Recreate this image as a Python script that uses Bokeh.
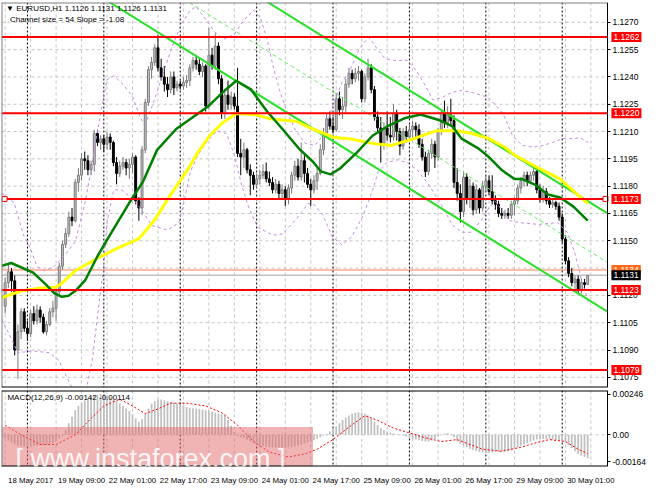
from bokeh.plotting import figure
from bokeh.layouts import column
from bokeh.models import FixedTicker, NumeralTickFormatter, Span, Label, Range1d, ColumnDataSource
from bokeh.embed import file_html
from bokeh.resources import INLINE

FONT = "Liberation Sans"
BASE = 1.0
PIP = 0.0001

# ---- EURUSD H1 candles (value v means 1.0 + v * 0.0001), bar 0 = 18 May 17:00 ----
opens = [1114,1127,1133,1128,1090,1100,1111,1102,1099,1110,1106,1112,1108,1100,1104,1111,1113,1122,1136,1148,
         1154,1163,1161,1182,1186,1195,1194,1189,1192,1209,1204,1206,1203,1207,1204,1193,1187,1191,1193,1190,
         1192,1196,1172,1168,1200,1226,1244,1248,1256,1245,1240,1236,1233,1240,1234,1236,1235,1237,1238,1245,
         1249,1247,1243,1246,1224,1252,1246,1257,1239,1220,1230,1225,1229,1224,1198,1196,1200,1189,1186,1181,
         1184,1186,1188,1184,1182,1178,1181,1176,1178,1173,1179,1186,1191,1185,1194,1187,1181,1178,1183,1187,
         1200,1209,1217,1213,1211,1228,1222,1224,1236,1242,1239,1242,1243,1228,1240,1245,1233,1218,1212,1203,
         1212,1208,1207,1220,1210,1202,1210,1207,1211,1213,1211,1203,1196,1188,1198,1203,1196,1210,1220,1215,
         1219,1216,1182,1176,1166,1185,1173,1180,1167,1178,1168,1180,1183,1177,1172,1170,1165,1164,1165,1164,
         1170,1172,1179,1183,1186,1183,1186,1188,1178,1173,1177,1172,1170,1171,1169,1163,1151,1139,1132,1127,
         1129,1123,1127,1126]
highs = [1130,1137,1135,1131,1104,1113,1113,1106,1112,1114,1115,1114,1110,1106,1113,1117,1124,1138,1150,1157,
         1166,1168,1184,1190,1198,1199,1197,1194,1211,1211,1208,1208,1210,1209,1205,1196,1194,1196,1195,1195,
         1198,1197,1174,1202,1228,1246,1251,1258,1263,1250,1246,1240,1243,1243,1238,1238,1240,1241,1247,1251,
         1251,1250,1248,1247,1267,1256,1264,1259,1241,1233,1238,1232,1231,1245,1206,1204,1201,1192,1188,1187,
         1189,1192,1193,1188,1185,1184,1183,1181,1180,1181,1188,1194,1195,1204,1197,1190,1184,1186,1190,1203,
         1212,1220,1221,1218,1231,1232,1229,1239,1245,1244,1245,1246,1244,1242,1250,1247,1235,1221,1218,1215,
         1221,1218,1225,1222,1212,1212,1213,1214,1216,1215,1214,1206,1199,1200,1206,1205,1212,1222,1227,1224,
         1228,1219,1190,1181,1188,1187,1184,1182,1181,1179,1183,1186,1186,1186,1175,1172,1168,1167,1168,1172,
         1174,1181,1185,1188,1188,1188,1190,1190,1181,1180,1179,1174,1173,1172,1171,1165,1153,1141,1135,1131,
         1131,1129,1129,1131]
lows = [1110,1124,1122,1087,1074,1096,1100,1095,1097,1104,1104,1105,1099,1098,1103,1108,1106,1120,1134,1146,
        1152,1158,1160,1177,1183,1189,1186,1186,1188,1202,1200,1199,1200,1200,1191,1181,1185,1189,1186,1184,
        1187,1170,1161,1164,1198,1224,1239,1246,1243,1238,1232,1229,1231,1230,1232,1233,1233,1234,1235,1243,
        1244,1241,1240,1221,1222,1244,1244,1236,1217,1217,1222,1222,1222,1196,1186,1190,1187,1175,1178,1179,
        1181,1184,1182,1180,1176,1176,1173,1173,1169,1170,1176,1183,1183,1183,1182,1179,1169,1176,1178,1186,
        1197,1207,1211,1209,1210,1219,1217,1220,1234,1236,1237,1238,1226,1226,1238,1231,1216,1209,1193,1200,
        1205,1204,1205,1205,1197,1200,1204,1205,1206,1206,1201,1194,1185,1186,1195,1190,1194,1208,1212,1212,
        1213,1179,1172,1160,1163,1170,1168,1164,1165,1165,1166,1177,1175,1170,1167,1163,1162,1162,1162,1162,
        1164,1170,1176,1180,1180,1181,1183,1176,1171,1171,1170,1168,1168,1167,1161,1149,1137,1130,1125,1123,
        1121,1121,1123,1126]
closes = [1127,1133,1128,1090,1100,1111,1102,1099,1110,1106,1112,1108,1100,1104,1111,1113,1122,1136,1148,1154,
          1163,1161,1182,1186,1195,1194,1189,1192,1209,1204,1206,1203,1207,1204,1193,1187,1191,1193,1190,1192,
          1196,1172,1168,1200,1226,1244,1248,1256,1245,1240,1236,1233,1240,1234,1236,1235,1237,1238,1245,1249,
          1247,1243,1246,1224,1252,1246,1257,1239,1220,1230,1225,1229,1224,1198,1196,1200,1189,1186,1181,1184,
          1186,1188,1184,1182,1178,1181,1176,1178,1173,1179,1186,1191,1185,1194,1187,1181,1178,1183,1187,1200,
          1209,1217,1213,1211,1228,1222,1224,1236,1242,1239,1242,1243,1228,1240,1245,1233,1218,1212,1203,1212,
          1208,1207,1220,1210,1202,1210,1207,1211,1213,1211,1203,1196,1188,1198,1203,1196,1210,1220,1215,1219,
          1216,1182,1176,1166,1185,1173,1180,1167,1178,1168,1180,1183,1177,1172,1170,1165,1164,1165,1164,1170,
          1172,1179,1183,1186,1183,1186,1188,1178,1173,1177,1172,1170,1171,1169,1163,1151,1139,1132,1127,1129,
          1123,1127,1126,1131]

# moving averages (bar, value)
green_ma_bars = [-1.1,1.9,8.8,13.0,15.4,17.8,19.9,22.0,25.1,29.0,32.9,38.9,43.4,47.7,53.7,58.5,63.6,69.0,72.6,
                 77.2,82.3,87.1,92.2,96.7,99.2,102.2,105.2,110.3,115.4,120.2,125.4,130.5,136.5,140.4,143.4,148.6,
                 151.9,156.1,160.0,162.4,166.6,170.5,174.4,178.7,183.0]
green_ma = [1136.2,1137.8,1132.5,1125.6,1121.3,1119.2,1119.8,1122.4,1128.2,1141.5,1153.1,1170.6,1182.8,1199.8,
            1211.4,1217.3,1223.6,1232.6,1237.9,1233.2,1221.0,1211.4,1200.8,1193.4,1188.1,1186.5,1189.7,1198.2,
            1207.7,1213.0,1217.3,1219.4,1216.2,1213.0,1206.1,1200.8,1196.1,1188.7,1183.9,1183.9,1180.7,1175.4,
            1173.8,1168.5,1161.1]
yellow_ma_bars = [-1.1,4.9,10.9,16.0,17.8,22.0,29.0,35.0,41.9,47.0,52.2,57.0,60.6,64.2,68.1,72.6,78.1,84.1,91.3,
                  96.7,103.4,108.2,115.4,121.4,128.4,135.3,141.9,147.0,151.9,157.0,160.0,166.6,174.4,180.5,183.0]
yellow_ma = [1118.7,1122.4,1124.0,1124.5,1126.7,1133.5,1140.4,1145.7,1151.0,1161.6,1175.9,1188.1,1198.7,1207.7,
             1214.6,1219.9,1219.4,1216.7,1215.7,1211.4,1206.7,1206.1,1203.5,1202.4,1206.1,1210.4,1210.4,1208.8,
             1206.1,1201.4,1197.1,1190.8,1183.9,1174.3,1170.5]

# envelopes (bar, value)
upper_band_bars = [-1.1,2.8,5.8,7.9,10,12.4,15.4,18.4,22,25.1,26.9,29,32,34.1,37.1,40.1,42.5,44,46.1,49.2,52.2,
                   55.2,58.2,60,62.7,65.7,68.7,72,75,78.1,80.2,82.3,84.1,86.2,88.3,91.3,94.3,97.3,99.8,102.8,105.8,
                   108.2,111.2,114.2,116.9,119.3,122.3,126.3,129.3,132.3,134.4,137.4,140.4,143.4,146.4,149.5,151.6,
                   154,156.4,159.4,162.4,166,169,172,175,178.7,180.5,183.2]
upper_band = [1176,1171,1153,1146,1136,1133.5,1136,1141.5,1149.4,1171,1188,1210.4,1238.5,1240.6,1235.8,1228.9,
              1217.3,1214,1223.6,1239.5,1255.4,1268.7,1276.6,1278.7,1272.4,1265,1260.7,1263.4,1271.3,1276.6,1272.4,
              1260.7,1246.4,1232.6,1222,1210.4,1203.5,1202.4,1207.7,1223.6,1236.9,1243.2,1255.4,1261.8,1255.4,
              1250.1,1249.1,1249.1,1243.2,1234.2,1227.3,1228.9,1231.6,1232.6,1231.6,1230,1228.9,1224.7,1219.9,
              1207.7,1202.4,1201.4,1202.4,1204,1206.1,1206.1,1206.7,1204]
lower_band_bars = [-1.1,1.9,4,8.8,13.9,16.9,19.3,20.8,23,25.4,27.5,29,30.8,32,34.1,36.5,39.5,42.5,46.1,51,54.6,
                   56.1,58.2,60.6,63.6,66.6,69.6,72,74.2,76.6,79.3,84.1,87.1,91.3,95.2,97.3,99.8,102.8,105.8,108.8,
                   112.4,115.4,117.2,119.9,123.2,126.3,129.3,132.9,136.8,140.4,143.4,146.4,149.5,151.9,154,158.5,
                   161.5,167.5,173.5,176.6,179,181.1,183.2]
lower_band = [1107,1096.4,1088.5,1089.5,1088.5,1084.3,1075.3,1070,1064.7,1067.4,1085.9,1108.7,1133.6,1160,1178,
              1178,1174,1168,1158.4,1155.8,1160,1170.6,1188.1,1197.1,1205,1210.4,1208.8,1197.1,1181.2,1168,1157.4,
              1153.1,1153.7,1161.6,1170.6,1169.6,1164.2,1152,1147.8,1152,1163.7,1177.5,1188.1,1192.9,1194.5,1192.9,
              1189.2,1181.2,1170.6,1158.9,1154.7,1154.7,1161.1,1168,1171.7,1161.1,1160,1159,1160,1154.7,1143.1,
              1128.2,1116.5]

# equidistant channel (size 54 pips, slope -1.08), drawn up to the price scale
channel_bars = [0, 189.2]
channel_lower = [1.13167, 1.11111]
channel_mid = [1.13437, 1.11381]
channel_upper = [1.13707, 1.11651]

# horizontal levels
level_prices = [1.1262, 1.1220, 1.1173, 1.1123, 1.1079]
ask_price = 1.1134
bid_price = 1.1131
price_ticks = [1.1270, 1.1255, 1.1240, 1.1225, 1.1210, 1.1195, 1.1180, 1.1165, 1.1150,
               1.1120, 1.1105, 1.1090, 1.1075]
grid_prices = price_ticks + [1.1135]

# time axis
time_label_bars = [0, 16, 32, 48, 64, 80, 96, 112, 128, 144, 160, 176]
time_labels = ["18 May 2017", "19 May 09:00", "22 May 01:00", "22 May 17:00", "23 May 09:00",
               "24 May 01:00", "24 May 17:00", "25 May 09:00", "26 May 01:00", "26 May 17:00",
               "29 May 09:00", "30 May 01:00"]
day_start_bars = [7, 31, 55, 79, 103, 127, 151, 175]

# MACD(12,26,9): main (histogram) per bar and signal, units of 0.00001
macd_hist = [-20,-35,-45,-58,-66,-70,-72,-72,-70,-68,-66,-64,-62,-60,-55,-48,-38,-22,
             -5,30,70,110,150,176,195,210,222,232,240,245,247,246,
             240,228,217,205,190,176,160,145,125,100,80,
             95,125,160,190,205,217,215,
             210,205,200,195,190,185,178,170,165,162,160,158,155,150,148,140,135,130,125,117,90,55,18,
             -5,-15,-20,-30,-40,-50,-59,-65,-70,-73,-75,-76,-77,-78,-78,-77,-76,-74,-70,-65,-59,-52,-46,-40,-33,-25,
             -15,-5,5,20,35,50,70,90,105,118,128,135,138,135,128,118,100,80,60,41,30,20,12,8,4,0,-5,
             -10,-18,-25,-29,-33,-38,-41,-41,-35,-25,-12,0,8,10,5,-15,
             -41,-55,-65,-76,-85,-92,-98,-105,-107,-108,-108,-107,-105,-104,-103,-102,-100,-95,
             -85,-75,-66,-59,-50,-42,-35,-29,-26,-25,-26,-27,-29,-31,-35,-40,-47,-62,-80,-100,-115,-127,-135,-142]
signal_bars = [0,5,11,16,22,27,31,36,40,44,48,52,57,63,68,73,78,83,89,94,98,103,108,113,117,122,127,132,137,
               142,146,150,156,162,167,171,176,180,183]
signal_vals = [59,0,-59,-59,0,100,176,217,176,129,158,193,193,176,135,59,-41,-105,-135,-117,-88,-29,47,117,88,
               41,12,-18,-41,-29,-59,-88,-100,-76,-47,-29,-41,-88,-114]


def to_price(v):
    return BASE + v * PIP


n = len(closes)
bars = list(range(n))
bull = [c >= o for o, c in zip(opens, closes)]
src = ColumnDataSource(dict(
    x=bars,
    high=[to_price(v) for v in highs],
    low=[to_price(v) for v in lows],
    top=[to_price(max(o, c)) for o, c in zip(opens, closes)],
    bottom=[to_price(min(o, c)) for o, c in zip(opens, closes)],
    body_fill=["#C8C8C8" if b else "#000000" for b in bull],
    body_line=["#7A7A7A" if b else "#000000" for b in bull],
))

X0 = -1.15          # left edge of the chart
XS = 189.2          # price scale position (right edge of the chart area)
XE = 202.1          # right edge of the label column
XR = Range1d(X0, XE)
GRID = "#C4C4C4"
FRAME_W = 647
MAIN_Y = (1.10694, 1.12809)
MACD_Y = (-0.00193, 0.00270)

p = figure(frame_width=FRAME_W, frame_height=385, x_range=XR, y_range=Range1d(*MAIN_Y),
           x_axis_location=None, y_axis_location="right", toolbar_location=None,
           output_backend="svg", min_border_left=1, min_border_top=2, min_border_bottom=2,
           min_border_right=0)
p.outline_line_color = None
p.grid.grid_line_color = None

# grid
p.segment(x0=[X0] * len(grid_prices), x1=[XS] * len(grid_prices), y0=grid_prices, y1=grid_prices,
          line_color=GRID, line_dash="3 3", line_width=1, level="underlay")
for b in range(0, 192, 8):
    p.add_layout(Span(location=b, dimension="height", line_color=GRID, line_dash="3 3",
                      line_width=1, level="underlay"))
for b in day_start_bars:
    p.add_layout(Span(location=b, dimension="height", line_color="black", line_dash="2 2",
                      line_width=1, level="underlay"))

p.segment(x0=[X0, X0], x1=[XS, XS], y0=[ask_price, bid_price], y1=[ask_price, bid_price],
          line_color=["#FFA68A", "#C0C0C0"], line_width=1.5, level="underlay")

# candles
p.segment(x0="x", y0="low", x1="x", y1="high", line_color="body_line", line_width=1, source=src)
p.vbar(x="x", width=0.6, top="top", bottom="bottom", fill_color="body_fill", line_color="body_line",
       line_width=1, source=src)

# envelopes
p.line(upper_band_bars, [to_price(v) for v in upper_band], line_color="#C58BE6", line_dash="3 3",
       line_width=1)
p.line(lower_band_bars, [to_price(v) for v in lower_band], line_color="#C58BE6", line_dash="3 3",
       line_width=1)

# channel
p.line(channel_bars, channel_mid, line_color="#66F066", line_dash="4 3", line_width=1)
p.line(channel_bars, channel_lower, line_color="#2BE02B", line_width=2)
p.line(channel_bars, channel_upper, line_color="#2BE02B", line_width=2)

# moving averages
p.line(yellow_ma_bars, [to_price(v) for v in yellow_ma], line_color="#FFFF00", line_width=3)
p.line(green_ma_bars, [to_price(v) for v in green_ma], line_color="#008000", line_width=2.5)

# horizontal levels
p.segment(x0=[X0] * len(level_prices), x1=[XS] * len(level_prices), y0=level_prices, y1=level_prices,
          line_color="#FF0000", line_width=2)
p.scatter([-0.2, 188.6], [1.1173, 1.1173], marker="square", size=5, fill_color="white",
          line_color="#FF0000")

# chart borders (left, top, bottom)
p.segment(x0=[X0, X0, X0], x1=[X0, XS, XS], y0=[MAIN_Y[0], MAIN_Y[1], MAIN_Y[0]],
          y1=[MAIN_Y[1], MAIN_Y[1], MAIN_Y[0]], line_color=["#808080", "#808080", "black"], line_width=2)

ax = p.yaxis[0]
ax.fixed_location = XS
ax.ticker = FixedTicker(ticks=price_ticks)
ax.formatter = NumeralTickFormatter(format="0.0000")
ax.major_tick_out = 3
ax.major_tick_in = 0
ax.minor_tick_line_color = None
ax.axis_line_color = "black"
ax.major_label_standoff = 2
ax.major_label_text_font = FONT
ax.major_label_text_font_size = "8.5px"
ax.major_label_text_color = "black"

# price boxes on the price scale
for val, bg in [(1.1262, "#FF0000"), (1.1220, "#FF0000"), (1.1173, "#FF0000"),
                (1.1123, "#FF0000"), (1.1079, "#FF0000"), (ask_price, "#FF6A1A"), (bid_price, "#000000")]:
    p.add_layout(Label(x=XS, y=val, x_offset=4, text=f"{val:.4f}", text_font=FONT,
                       text_font_size="8.5px", text_color="white", text_baseline="middle",
                       background_fill_color=bg, padding=2))

p.add_layout(Label(x=0.3, y=1.12777, text="\u25BC EURUSD,H1  1.1126 1.1131 1.1126 1.1131",
                   text_font=FONT, text_font_size="8px", text_color="black", text_baseline="middle"))
p.add_layout(Label(x=1.5, y=1.12713, text="Channel size = 54 Slope = -1.08",
                   text_font=FONT, text_font_size="8px", text_color="black", text_baseline="middle"))

# ---- MACD panel ----
q = figure(frame_width=FRAME_W, frame_height=76, x_range=XR, y_range=Range1d(*MACD_Y),
           y_axis_location="right", toolbar_location=None, output_backend="svg",
           min_border_left=1, min_border_top=1, min_border_bottom=0, min_border_right=0)
q.outline_line_color = None
q.grid.grid_line_color = None
for b in range(0, 192, 8):
    q.add_layout(Span(location=b, dimension="height", line_color=GRID, line_dash="3 3",
                      line_width=1, level="underlay"))
for b in day_start_bars:
    q.add_layout(Span(location=b, dimension="height", line_color="black", line_dash="2 2",
                      line_width=1, level="underlay"))
q.segment(x0=[X0], x1=[XS], y0=[0.0], y1=[0.0], line_color=GRID, line_dash="3 3", line_width=1,
          level="underlay")

q.vbar(x=bars, width=0.55, top=[h * 1e-5 for h in macd_hist], bottom=0, fill_color="#C0C0C0",
       line_color=None)
q.line(signal_bars, [v * 1e-5 for v in signal_vals], line_color="#FF0000", line_dash="2 2",
       line_width=1)

q.add_layout(Label(x=0.7, y=0.00228, text="MACD(12,26,9) -0.00142 -0.00114", text_font=FONT,
                   text_font_size="8px", text_color="black", text_baseline="middle"))

# watermark
q.quad(left=X0, right=96.7, bottom=MACD_Y[0], top=0.00047, fill_color="#E46A6A", fill_alpha=0.5,
       line_color=None)
q.add_layout(Label(x=48.0, y=-0.00150, text="[  www.instaforex.com  ]", text_font=FONT,
                   text_font_size="27px", text_color="white", text_alpha=0.9, text_align="center",
                   text_baseline="alphabetic"))

q.segment(x0=[X0, X0, X0], x1=[X0, XS, XS], y0=[MACD_Y[0], MACD_Y[1], MACD_Y[0]],
          y1=[MACD_Y[1], MACD_Y[1], MACD_Y[0]], line_color=["#808080", "black", "black"], line_width=2)

qa = q.yaxis[0]
qa.fixed_location = XS
qa.ticker = FixedTicker(ticks=[0.00246, 0.0, -0.00164])
qa.major_label_overrides = {0.00246: "0.00246", 0.0: "0.00", -0.00164: "-0.00164"}
qa.major_tick_out = 3
qa.major_tick_in = 0
qa.minor_tick_line_color = None
qa.axis_line_color = "black"
qa.major_label_standoff = 2
qa.major_label_text_font = FONT
qa.major_label_text_font_size = "8.5px"
qa.major_label_text_color = "black"

xa = q.xaxis[0]
xa.ticker = FixedTicker(ticks=[b + 8 for b in time_label_bars])
xa.major_label_overrides = {b + 8: t for b, t in zip(time_label_bars, time_labels)}
xa.major_tick_line_color = None
xa.minor_tick_line_color = None
xa.axis_line_color = None
xa.major_label_standoff = 3
xa.major_label_text_font = FONT
xa.major_label_text_font_size = "7.8px"
xa.major_label_text_color = "black"

layout = column(p, q)
open("out.html", "w").write(file_html(layout, INLINE))
